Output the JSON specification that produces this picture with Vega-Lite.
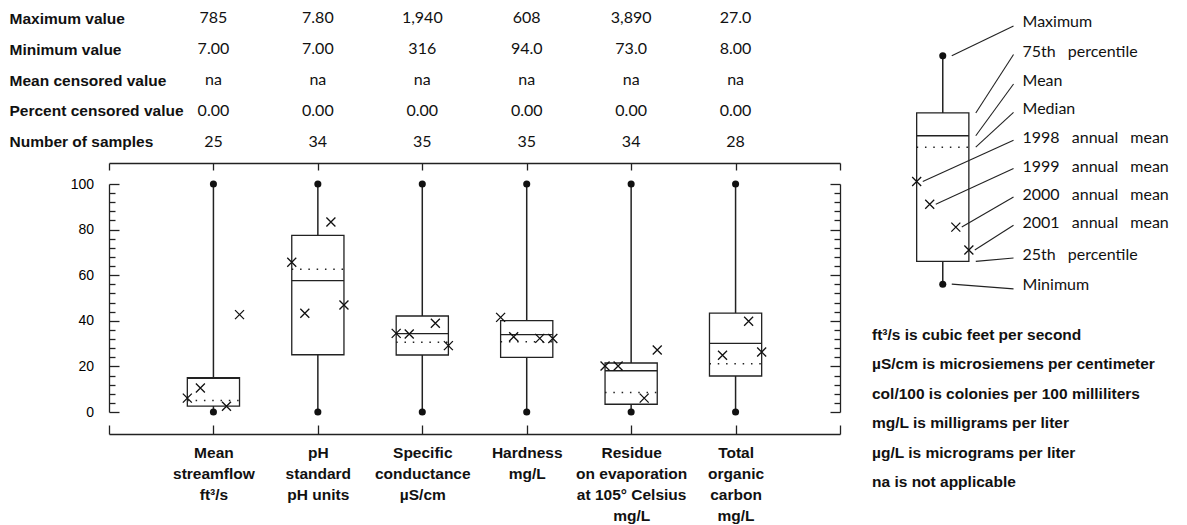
{
  "$schema": "https://vega.github.io/schema/vega-lite/v6.json",
  "background": "white",
  "padding": {"left": 9, "top": 0, "right": 0, "bottom": 0},
  "config": {"view": {"stroke": null}, "axis": {"grid": false}},
  "datasets": {
    "parameters": [
      {"parameter": "Mean\nstreamflow\nft³/s", "Maximum value": "785", "Minimum value": "7.00", "Mean censored value": "na", "Percent censored value": "0.00", "Number of samples": "25", "lo": 0, "p25": 2.6, "median": 5.0, "mean": 14.8, "p75": 15.1, "hi": 100},
      {"parameter": "pH\nstandard\npH units", "Maximum value": "7.80", "Minimum value": "7.00", "Mean censored value": "na", "Percent censored value": "0.00", "Number of samples": "34", "lo": 0, "p25": 25.1, "median": 62.6, "mean": 57.6, "p75": 77.5, "hi": 100},
      {"parameter": "Specific\nconductance\nµS/cm", "Maximum value": "1,940", "Minimum value": "316", "Mean censored value": "na", "Percent censored value": "0.00", "Number of samples": "35", "lo": 0, "p25": 25.0, "median": 30.6, "mean": 34.4, "p75": 42.1, "hi": 100},
      {"parameter": "Hardness\nmg/L", "Maximum value": "608", "Minimum value": "94.0", "Mean censored value": "na", "Percent censored value": "0.00", "Number of samples": "35", "lo": 0, "p25": 24.0, "median": 30.8, "mean": 33.9, "p75": 40.1, "hi": 100},
      {"parameter": "Residue\non evaporation\nat 105° Celsius\nmg/L", "Maximum value": "3,890", "Minimum value": "73.0", "Mean censored value": "na", "Percent censored value": "0.00", "Number of samples": "34", "lo": 0, "p25": 3.4, "median": 8.5, "mean": 18.1, "p75": 21.5, "hi": 100},
      {"parameter": "Total\norganic\ncarbon\nmg/L", "Maximum value": "27.0", "Minimum value": "8.00", "Mean censored value": "na", "Percent censored value": "0.00", "Number of samples": "28", "lo": 0, "p25": 15.8, "median": 21.2, "mean": 30.1, "p75": 43.4, "hi": 100}
    ],
    "annualMeans": [
      {"parameter": "Mean\nstreamflow\nft³/s", "year": "1998", "value": 6.1},
      {"parameter": "Mean\nstreamflow\nft³/s", "year": "1999", "value": 10.5},
      {"parameter": "Mean\nstreamflow\nft³/s", "year": "2000", "value": 2.5},
      {"parameter": "Mean\nstreamflow\nft³/s", "year": "2001", "value": 42.7},
      {"parameter": "pH\nstandard\npH units", "year": "1998", "value": 65.7},
      {"parameter": "pH\nstandard\npH units", "year": "1999", "value": 43.3},
      {"parameter": "pH\nstandard\npH units", "year": "2000", "value": 83.3},
      {"parameter": "pH\nstandard\npH units", "year": "2001", "value": 46.9},
      {"parameter": "Specific\nconductance\nµS/cm", "year": "1998", "value": 34.5},
      {"parameter": "Specific\nconductance\nµS/cm", "year": "1999", "value": 34.2},
      {"parameter": "Specific\nconductance\nµS/cm", "year": "2000", "value": 38.9},
      {"parameter": "Specific\nconductance\nµS/cm", "year": "2001", "value": 29.1},
      {"parameter": "Hardness\nmg/L", "year": "1998", "value": 41.5},
      {"parameter": "Hardness\nmg/L", "year": "1999", "value": 33.0},
      {"parameter": "Hardness\nmg/L", "year": "2000", "value": 32.3},
      {"parameter": "Hardness\nmg/L", "year": "2001", "value": 32.2},
      {"parameter": "Residue\non evaporation\nat 105° Celsius\nmg/L", "year": "1998", "value": 20.2},
      {"parameter": "Residue\non evaporation\nat 105° Celsius\nmg/L", "year": "1999", "value": 20.2},
      {"parameter": "Residue\non evaporation\nat 105° Celsius\nmg/L", "year": "2000", "value": 6.1},
      {"parameter": "Residue\non evaporation\nat 105° Celsius\nmg/L", "year": "2001", "value": 27.2},
      {"parameter": "Total\norganic\ncarbon\nmg/L", "year": "1999", "value": 24.9},
      {"parameter": "Total\norganic\ncarbon\nmg/L", "year": "2000", "value": 39.8},
      {"parameter": "Total\norganic\ncarbon\nmg/L", "year": "2001", "value": 26.3}
    ],
    "explanationBox": [
      {"lo": 0, "p25": 10, "median": 60, "mean": 65, "p75": 75, "hi": 100}
    ],
    "explanationMeans": [
      {"year": "1998", "value": 45},
      {"year": "1999", "value": 35},
      {"year": "2000", "value": 25},
      {"year": "2001", "value": 15}
    ],
    "explanationKeys": [
      {"key": "Maximum", "part": "extreme", "at": 100, "ly": 114.8},
      {"key": "75th\u2002 percentile", "part": "box", "at": 75, "ly": 101.9},
      {"key": "Mean", "part": "box", "at": 65, "ly": 89.0},
      {"key": "Median", "part": "box", "at": 60, "ly": 76.6},
      {"key": "1998\u2002 annual\u2002 mean", "part": "annual", "year": "1998", "at": 45, "ly": 63.9},
      {"key": "1999\u2002 annual\u2002 mean", "part": "annual", "year": "1999", "at": 35, "ly": 51.5},
      {"key": "2000\u2002 annual\u2002 mean", "part": "annual", "year": "2000", "at": 25, "ly": 39.1},
      {"key": "2001\u2002 annual\u2002 mean", "part": "annual", "year": "2001", "at": 15, "ly": 26.7},
      {"key": "25th\u2002 percentile", "part": "box", "at": 10, "ly": 12.8},
      {"key": "Minimum", "part": "extreme", "at": 0, "ly": -0.3}
    ],
    "notes": [
      {"note": "ft³/s is cubic feet per second"},
      {"note": "µS/cm is microsiemens per centimeter"},
      {"note": "col/100 is colonies per 100 milliliters"},
      {"note": "mg/L is milligrams per liter"},
      {"note": "µg/L is micrograms per liter"},
      {"note": "na is not applicable"}
    ]
  },
  "hconcat": [
    {
      "vconcat": [
        {
          "data": {"name": "parameters"},
          "transform": [
            {"fold": ["Maximum value", "Minimum value", "Mean censored value", "Percent censored value", "Number of samples"], "as": ["statistic", "entry"]}
          ],
          "width": 731,
          "height": 160,
          "mark": {"type": "text", "font": "Lato", "fontSize": 16, "color": "#111"},
          "encoding": {
            "x": {"field": "parameter", "type": "nominal", "scale": {"type": "point", "padding": 0, "domain": ["", "Mean\nstreamflow\nft³/s", "pH\nstandard\npH units", "Specific\nconductance\nµS/cm", "Hardness\nmg/L", "Residue\non evaporation\nat 105° Celsius\nmg/L", "Total\norganic\ncarbon\nmg/L", " "]}, "axis": null},
            "y": {"field": "statistic", "type": "nominal", "scale": {"type": "point", "padding": 0.593, "domain": ["Maximum value", "Minimum value", "Mean censored value", "Percent censored value", "Number of samples"]},
              "axis": {"title": null, "domain": false, "ticks": false, "tickSize": 0, "labelAlign": "left", "labelPadding": 100, "labelFont": "Liberation Sans", "labelFontWeight": "bold", "labelFontSize": 15.5, "labelColor": "#111", "labelLimit": 0}},
            "text": {"field": "entry"}
          }
        },
        {
          "width": 731,
          "height": 228,
          "resolve": {"axis": {"x": "independent", "y": "independent"}},
          "layer": [
            {
              "data": {"name": "parameters"},
              "mark": {"type": "rule", "color": "#222", "strokeWidth": 1.5},
              "encoding": {
                "x": {"field": "parameter", "type": "nominal", "scale": {"type": "point", "padding": 0, "domain": ["", "Mean\nstreamflow\nft³/s", "pH\nstandard\npH units", "Specific\nconductance\nµS/cm", "Hardness\nmg/L", "Residue\non evaporation\nat 105° Celsius\nmg/L", "Total\norganic\ncarbon\nmg/L", " "]},
                  "axis": {"orient": "bottom", "offset": 22, "title": null, "tickSize": -9, "tickColor": "#222", "tickWidth": 1.3, "domainColor": "#222", "domainWidth": 1.3, "labelExpr": "split(datum.label, '\\n')", "labelAngle": 0, "labelFont": "Liberation Sans", "labelFontWeight": "bold", "labelFontSize": 15.5, "labelLineHeight": 21, "labelPadding": 20.5, "labelColor": "#111", "labelOverlap": false, "labelLimit": 0}},
                "y": {"field": "lo", "type": "quantitative", "scale": {"domain": [0, 100], "nice": false, "zero": false},
                  "axis": {"orient": "left", "title": null, "values": [0, 4, 8, 12, 16, 20, 24, 28, 32, 36, 40, 44, 48, 52, 56, 60, 64, 68, 72, 76, 80, 84, 88, 92, 96, 100], "tickSize": {"condition": {"test": "datum.value % 20 === 0", "value": -10}, "value": -6}, "tickColor": "#222", "tickWidth": 1.3, "domainColor": "#222", "domainWidth": 1.3, "labelExpr": "datum.value % 20 === 0 ? datum.label : ''", "labelPadding": 25.5, "labelFont": "Liberation Sans", "labelFontSize": 14, "labelColor": "#000", "labelOverlap": false, "labelFlush": false}},
                "y2": {"field": "hi"}
              }
            },
            {
              "data": {"name": "parameters"},
              "mark": {"type": "bar", "width": 52.2, "fill": "white", "stroke": "#222", "strokeWidth": 1.3},
              "encoding": {
                "x": {"field": "parameter", "type": "nominal", "scale": {"type": "point", "padding": 0, "domain": ["", "Mean\nstreamflow\nft³/s", "pH\nstandard\npH units", "Specific\nconductance\nµS/cm", "Hardness\nmg/L", "Residue\non evaporation\nat 105° Celsius\nmg/L", "Total\norganic\ncarbon\nmg/L", " "]}, "axis": null},
                "y": {"field": "p25", "type": "quantitative", "axis": null},
                "y2": {"field": "p75"}
              }
            },
            {
              "data": {"name": "parameters"},
              "mark": {"type": "point", "shape": "M-1,0L1,0", "size": 2725, "filled": false, "stroke": "#222", "strokeWidth": 1.3, "opacity": 1},
              "encoding": {
                "x": {"field": "parameter", "type": "nominal", "scale": {"type": "point", "padding": 0, "domain": ["", "Mean\nstreamflow\nft³/s", "pH\nstandard\npH units", "Specific\nconductance\nµS/cm", "Hardness\nmg/L", "Residue\non evaporation\nat 105° Celsius\nmg/L", "Total\norganic\ncarbon\nmg/L", " "]}, "axis": null},
                "y": {"field": "mean", "type": "quantitative", "axis": null}
              }
            },
            {
              "data": {"name": "parameters"},
              "mark": {"type": "point", "shape": "M-1,0L1,0", "size": 2725, "filled": false, "stroke": "#222", "strokeWidth": 1.5, "strokeDash": [1.5, 6.8], "opacity": 1},
              "encoding": {
                "x": {"field": "parameter", "type": "nominal", "scale": {"type": "point", "padding": 0, "domain": ["", "Mean\nstreamflow\nft³/s", "pH\nstandard\npH units", "Specific\nconductance\nµS/cm", "Hardness\nmg/L", "Residue\non evaporation\nat 105° Celsius\nmg/L", "Total\norganic\ncarbon\nmg/L", " "]}, "axis": null},
                "y": {"field": "median", "type": "quantitative", "axis": null}
              }
            },
            {
              "data": {"name": "parameters"},
              "mark": {"type": "circle", "size": 50, "color": "#111", "opacity": 1},
              "encoding": {
                "x": {"field": "parameter", "type": "nominal", "scale": {"type": "point", "padding": 0, "domain": ["", "Mean\nstreamflow\nft³/s", "pH\nstandard\npH units", "Specific\nconductance\nµS/cm", "Hardness\nmg/L", "Residue\non evaporation\nat 105° Celsius\nmg/L", "Total\norganic\ncarbon\nmg/L", " "]}, "axis": null},
                "y": {"field": "lo", "type": "quantitative", "axis": null}
              }
            },
            {
              "data": {"name": "parameters"},
              "mark": {"type": "circle", "size": 50, "color": "#111", "opacity": 1},
              "encoding": {
                "x": {"field": "parameter", "type": "nominal", "scale": {"type": "point", "padding": 0, "domain": ["", "Mean\nstreamflow\nft³/s", "pH\nstandard\npH units", "Specific\nconductance\nµS/cm", "Hardness\nmg/L", "Residue\non evaporation\nat 105° Celsius\nmg/L", "Total\norganic\ncarbon\nmg/L", " "]},
                  "axis": {"orient": "top", "offset": 21, "title": null, "labels": false, "tickSize": -7, "tickColor": "#222", "tickWidth": 1.3, "domainColor": "#222", "domainWidth": 1.3}},
                "y": {"field": "hi", "type": "quantitative",
                  "axis": {"orient": "right", "title": null, "labels": false, "values": [0, 4, 8, 12, 16, 20, 24, 28, 32, 36, 40, 44, 48, 52, 56, 60, 64, 68, 72, 76, 80, 84, 88, 92, 96, 100], "tickSize": {"condition": {"test": "datum.value % 20 === 0", "value": -10}, "value": -6}, "tickColor": "#222", "tickWidth": 1.3, "domainColor": "#222", "domainWidth": 1.3}}
              }
            },
            {
              "data": {"name": "annualMeans"},
              "mark": {"type": "point", "shape": "M-1,-1L1,1M-1,1L1,-1", "size": 81, "filled": false, "stroke": "#111", "strokeWidth": 1.3, "opacity": 1},
              "encoding": {
                "x": {"field": "parameter", "type": "nominal", "scale": {"type": "point", "padding": 0, "domain": ["", "Mean\nstreamflow\nft³/s", "pH\nstandard\npH units", "Specific\nconductance\nµS/cm", "Hardness\nmg/L", "Residue\non evaporation\nat 105° Celsius\nmg/L", "Total\norganic\ncarbon\nmg/L", " "]}, "axis": null},
                "xOffset": {"field": "year", "type": "nominal", "scale": {"type": "point", "padding": 0, "domain": ["1998", "1999", "", "2000", "2001"], "range": [-26.1, 26.1]}},
                "y": {"field": "value", "type": "quantitative", "axis": null}
              }
            }
          ]
        }
      ],
      "spacing": 24,
      "bounds": "flush"
    },
    {
      "vconcat": [
        {
          "width": 212.3,
          "height": 307,
          "resolve": {"scale": {"xOffset": "independent"}},
          "layer": [
            {
              "data": {"name": "explanationBox"},
              "mark": {"type": "rule", "color": "#222", "strokeWidth": 1.5},
              "encoding": {
                "x": {"datum": "box", "type": "nominal", "scale": {"type": "point", "padding": 1.023, "domain": ["box", "keys"]}, "axis": null},
                "y": {"field": "lo", "type": "quantitative", "scale": {"domain": [-10, 124.47], "nice": false, "zero": false}, "axis": null},
                "y2": {"field": "hi"}
              }
            },
            {
              "data": {"name": "explanationBox"},
              "mark": {"type": "bar", "width": 52.2, "fill": "white", "stroke": "#222", "strokeWidth": 1.3},
              "encoding": {
                "x": {"datum": "box", "type": "nominal", "scale": {"type": "point", "padding": 1.023, "domain": ["box", "keys"]}, "axis": null},
                "y": {"field": "p25", "type": "quantitative", "axis": null},
                "y2": {"field": "p75"}
              }
            },
            {
              "data": {"name": "explanationBox"},
              "mark": {"type": "point", "shape": "M-1,0L1,0", "size": 2725, "filled": false, "stroke": "#222", "strokeWidth": 1.3, "opacity": 1},
              "encoding": {
                "x": {"datum": "box", "type": "nominal", "scale": {"type": "point", "padding": 1.023, "domain": ["box", "keys"]}, "axis": null},
                "y": {"field": "mean", "type": "quantitative", "axis": null}
              }
            },
            {
              "data": {"name": "explanationBox"},
              "mark": {"type": "point", "shape": "M-1,0L1,0", "size": 2725, "filled": false, "stroke": "#222", "strokeWidth": 1.5, "strokeDash": [1.5, 6.8], "opacity": 1},
              "encoding": {
                "x": {"datum": "box", "type": "nominal", "scale": {"type": "point", "padding": 1.023, "domain": ["box", "keys"]}, "axis": null},
                "y": {"field": "median", "type": "quantitative", "axis": null}
              }
            },
            {
              "data": {"name": "explanationBox"},
              "mark": {"type": "circle", "size": 50, "color": "#111", "opacity": 1},
              "encoding": {
                "x": {"datum": "box", "type": "nominal", "scale": {"type": "point", "padding": 1.023, "domain": ["box", "keys"]}, "axis": null},
                "y": {"field": "lo", "type": "quantitative", "axis": null}
              }
            },
            {
              "data": {"name": "explanationBox"},
              "mark": {"type": "circle", "size": 50, "color": "#111", "opacity": 1},
              "encoding": {
                "x": {"datum": "box", "type": "nominal", "scale": {"type": "point", "padding": 1.023, "domain": ["box", "keys"]}, "axis": null},
                "y": {"field": "hi", "type": "quantitative", "axis": null}
              }
            },
            {
              "data": {"name": "explanationMeans"},
              "mark": {"type": "point", "shape": "M-1,-1L1,1M-1,1L1,-1", "size": 81, "filled": false, "stroke": "#111", "strokeWidth": 1.3, "opacity": 1},
              "encoding": {
                "x": {"datum": "box", "type": "nominal", "scale": {"type": "point", "padding": 1.023, "domain": ["box", "keys"]}, "axis": null},
                "xOffset": {"field": "year", "type": "nominal", "scale": {"type": "point", "padding": 0, "domain": ["1998", "1999", "", "2000", "2001"], "range": [-26.1, 26.1]}},
                "y": {"field": "value", "type": "quantitative", "axis": null}
              }
            },
            {
              "data": {"name": "explanationKeys"},
              "transform": [{"filter": "datum.part === 'box'"}],
              "mark": {"type": "rule", "color": "#222", "strokeWidth": 1.1, "xOffset": 33, "y2Offset": 3},
              "encoding": {
                "x": {"datum": "box", "type": "nominal", "scale": {"type": "point", "padding": 1.023, "domain": ["box", "keys"]}, "axis": null},
                "x2": {"datum": "keys"},
                "y": {"field": "at", "type": "quantitative", "axis": null},
                "y2": {"field": "ly"}
              }
            },
            {
              "data": {"name": "explanationKeys"},
              "transform": [{"filter": "datum.part === 'extreme'"}],
              "mark": {"type": "rule", "color": "#222", "strokeWidth": 1.1, "xOffset": 9, "y2Offset": 4},
              "encoding": {
                "x": {"datum": "box", "type": "nominal", "scale": {"type": "point", "padding": 1.023, "domain": ["box", "keys"]}, "axis": null},
                "x2": {"datum": "keys"},
                "y": {"field": "at", "type": "quantitative", "axis": null},
                "y2": {"field": "ly"}
              }
            },
            {
              "data": {"name": "explanationKeys"},
              "transform": [{"filter": "datum.part === 'annual'"}],
              "mark": {"type": "rule", "color": "#222", "strokeWidth": 1.1, "y2Offset": 2},
              "encoding": {
                "x": {"datum": "box", "type": "nominal", "scale": {"type": "point", "padding": 1.023, "domain": ["box", "keys"]}, "axis": null},
                "xOffset": {"field": "year", "type": "nominal", "scale": {"type": "point", "padding": 0, "domain": ["1998", "1999", "", "2000", "2001"], "range": [-20, 32]}},
                "x2": {"datum": "keys"},
                "y": {"field": "at", "type": "quantitative", "axis": null},
                "y2": {"field": "ly"}
              }
            },
            {
              "data": {"name": "explanationKeys"},
              "mark": {"type": "text", "align": "left", "dx": 9, "font": "Lato", "fontSize": 16, "color": "#111"},
              "encoding": {
                "x": {"datum": "keys", "type": "nominal", "scale": {"type": "point", "padding": 1.023, "domain": ["box", "keys"]}, "axis": null},
                "y": {"field": "ly", "type": "quantitative", "axis": null},
                "text": {"field": "key"}
              }
            }
          ]
        },
        {
          "data": {"name": "notes"},
          "width": 212.3,
          "height": 176.4,
          "mark": {"type": "text", "align": "left", "font": "Liberation Sans", "fontWeight": "bold", "fontSize": 15.5, "color": "#111"},
          "encoding": {
            "x": {"datum": 0, "type": "quantitative", "scale": {"domain": [0, 1]}, "axis": null},
            "y": {"field": "note", "type": "nominal", "sort": null, "scale": {"type": "point", "padding": 0.5}, "axis": null},
            "text": {"field": "note"}
          }
        }
      ],
      "spacing": 13.3,
      "bounds": "flush"
    }
  ],
  "spacing": 31,
  "bounds": "full"
}
